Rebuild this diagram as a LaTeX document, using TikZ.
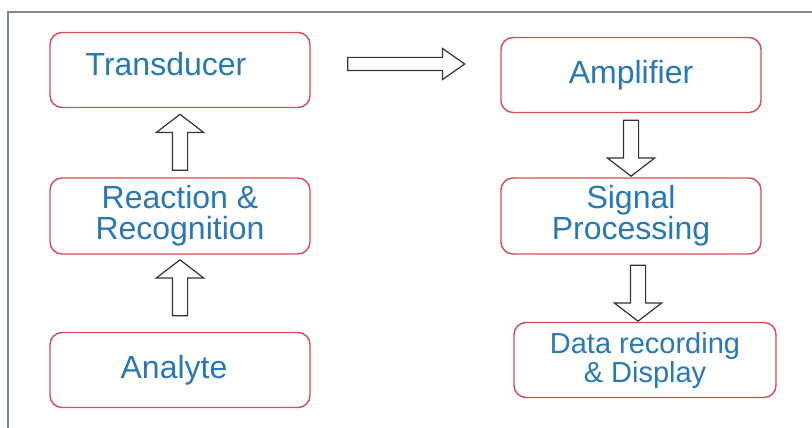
\documentclass[tikz,border=0pt]{standalone}
\usepackage{fontspec}
\setmainfont{Liberation Sans}
\usetikzlibrary{calc, shapes.arrows}
\definecolor{boxred}{RGB}{215,75,85}
\definecolor{textblue}{RGB}{40,120,180}
\definecolor{framegray}{RGB}{130,135,150}

\begin{document}
\begin{tikzpicture}[x=1pt, y=-1pt,
        stage/.style={draw=boxred, line width=1.4pt, rounded corners=12pt, fill=white,
            text=textblue, minimum width=260pt, minimum height=75pt, align=center,
            font=\fontsize{32}{31}\selectfont},
        hollow/.style={single arrow, draw=black!80, line width=1.2pt, fill=white,
            inner xsep=0pt, inner ysep=7pt, single arrow head extend=16pt,
            single arrow tip angle=105, minimum height=56pt}]
        \useasboundingbox (0,0) rectangle (812,428);
        \draw[framegray, line width=1.5pt] (8,428) -- (8,12) -- (812,12);

        % left column
        \node[stage] (trans) at (180,70) {\raisebox{6pt}[\height][\depth]{Transducer}\hspace*{28pt}};
        \node[stage, minimum height=76pt] (react) at (180,216) {Reaction \&\\Recognition};
        \node[stage] (analyte) at (180,370) {Analyte\hspace*{12pt}};

        % right column
        \node[stage] (amp) at (631,75) {Amplifier};
        \node[stage, minimum height=76pt] (signal) at (631,216) {Signal\\Processing};
        \node[stage, minimum width=262pt, font=\fontsize{29}{29}\selectfont] (data) at (645,360) {Data recording\\\& Display};

        \path (analyte.north) -- node[hollow, yshift=2.5pt, rotate=90] {} (react.south);
        \path (react.north) -- node[hollow, yshift=-2.5pt, rotate=90] {} (trans.south);
        \path (trans.east) -- node[hollow, minimum height=117pt, inner ysep=6pt,
            single arrow head extend=9pt, single arrow tip angle=70,
            xshift=-4pt, yshift=8.5pt] {} (amp.west);
        \path (amp.south) -- node[hollow, rotate=-90] {} (signal.north);
        \path (signal.south) -- node[hollow, yshift=-2pt, rotate=-90] {} (data.north);
    \end{tikzpicture}
\end{document}
